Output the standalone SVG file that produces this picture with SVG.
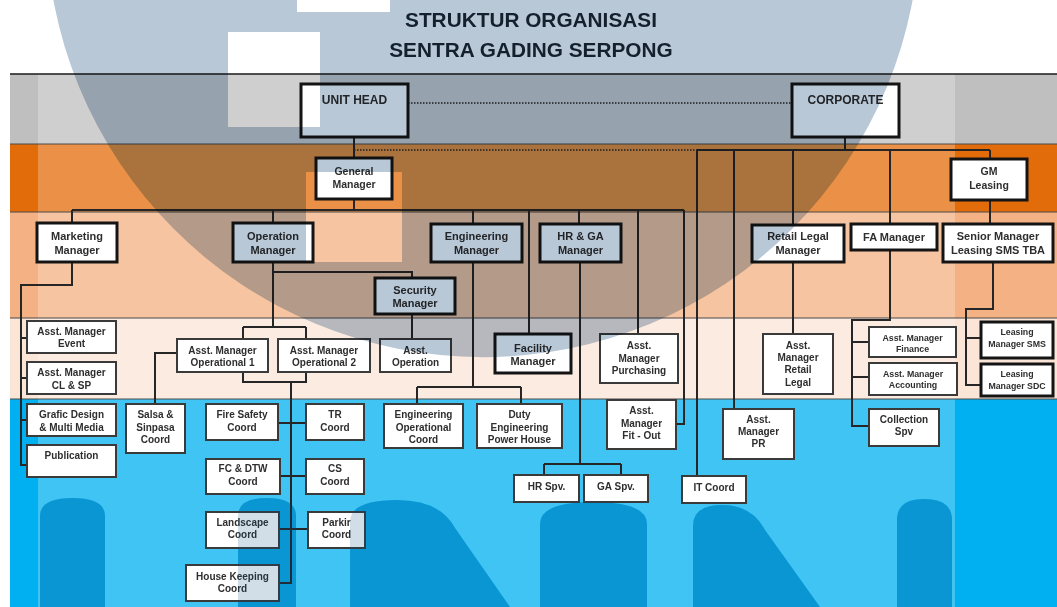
<svg xmlns="http://www.w3.org/2000/svg" width="1057" height="607" viewBox="0 0 1057 607">
<style>
.tk{fill:#fff;stroke:#141414;stroke-width:3}
.tn{fill:#fff;stroke:#3a3a3a;stroke-width:2}
.t{font-family:"Liberation Sans",Arial,sans-serif;font-weight:bold;text-anchor:middle;fill:#2e2e2e}
.s12{font-size:12px}.s11{font-size:11px}.s105{font-size:10.5px}.s10{font-size:10px}.s9{font-size:8.8px}
.ttl{font-family:"Liberation Sans",Arial,sans-serif;font-weight:bold;font-size:20.8px;text-anchor:middle;fill:#1c2836}
.cn{fill:none;stroke:#262626;stroke-width:2}
.dot{fill:none;stroke:#262626;stroke-width:1.5;stroke-dasharray:1.5 1.5}
.sep{stroke:#4a4a4a;stroke-width:1}
</style>
<defs>
<g id="mshapes">
<path d="M40,607 V516 Q40,498 72.5,498 Q105,498 105,516 V607 Z"/>
<path d="M238,607 V516 Q238,498 267,498 Q296,498 296,516 V607 Z"/>
<path d="M350,607 V522 Q350,500 397,500 Q440,500 455,528 L510,607 Z"/>
<path d="M540,607 V524 Q540,502 593,502 Q647,502 647,524 V607 Z"/>
<path d="M693,607 V526 Q693,505 722,505 Q752,505 765,530 L820,607 Z"/>
<path d="M897,607 V520 Q897,499 924,499 Q952,499 952,520 V607 Z"/>
</g>
</defs>
<rect x="0" y="0" width="1057" height="607" fill="#ffffff"/>
<g id="bands">
<rect x="10" y="74" width="1047" height="70" fill="#bfbfbf"/>
<rect x="10" y="144" width="1047" height="68" fill="#e36c0a"/>
<rect x="10" y="212" width="1047" height="106" fill="#f4b183"/>
<rect x="10" y="318" width="1047" height="81" fill="#fbe5d6"/>
<rect x="10" y="399" width="1047" height="208" fill="#00b0f0"/>
<rect x="38" y="74" width="917" height="533" fill="#ffffff" opacity="0.25"/>
<use href="#mshapes" fill="#09a6e6"/>
<line x1="10" y1="74" x2="1057" y2="74" stroke="#1a1a1a" stroke-width="1.5"/>
<line class="sep" x1="10" y1="144" x2="1057" y2="144"/>
<line class="sep" x1="10" y1="212" x2="1057" y2="212"/>
<line class="sep" x1="10" y1="318" x2="1057" y2="318"/>
<line class="sep" x1="10" y1="399" x2="1057" y2="399"/>
</g>
<g id="title">
<text class="ttl" x="531" y="27">STRUKTUR ORGANISASI</text>
<text class="ttl" x="531" y="57">SENTRA GADING SERPONG</text>
</g>
<g id="connectors">
<path class="dot" d="M408,103 H792"/>
<path class="dot" d="M354,150 H697"/>
<path class="cn" d="M354,137 V158 M354,199 V210 M72,210 H684 M72,210 V223 M273,210 V223 M473,210 V224 M529,210 V334 M579,210 V224 M638,210 V334 M684,210 V424 H676"/>
<path class="cn" d="M845,137 V150 M697,150 H990 M697,150 V476 M734,150 V409 M793,150 V225 M793,262 V334 M890,150 V224 M890,250 V320 H852 V426 H869 M852,342 H869 M852,377 H869"/>
<path class="cn" d="M990,150 V159 M990,200 V224 M993,262 V309 H966 V385 H981 M966,338 H981"/>
<path class="cn" d="M72,262 V285 H21 V465 H27 M21,338 H27 M21,378 H27 M21,420 H27"/>
<path class="cn" d="M273,262 V327 M243,327 H306 M243,327 V339 M306,327 V339 M273,272 H412 V278 M412,314 V339"/>
<path class="cn" d="M243,372 V382 H306 V372 M291,382 V583 H279 M278,423 H306 M280,476 H306 M279,529 H308 M177,353 H155 V404"/>
<path class="cn" d="M473,262 V387 M417,387 H521 M417,387 V404 M521,387 V404 M580,262 V464 M544,464 H621 M544,464 V475 M621,464 V475"/>
</g>
<g id="unit-head"><rect class="tk" x="301" y="84" width="107" height="53"/><text class="t s12" x="354.5" y="104">UNIT HEAD</text></g>
<g id="corporate"><rect class="tk" x="792" y="84" width="107" height="53"/><text class="t s12" x="845.5" y="104">CORPORATE</text></g>
<g id="general-manager"><rect class="tk" x="316" y="158" width="76" height="41"/><text class="t s105" x="354" y="175">General</text><text class="t s105" x="354" y="188">Manager</text></g>
<g id="gm-leasing"><rect class="tk" x="951" y="159" width="76" height="41"/><text class="t s105" x="989" y="175">GM</text><text class="t s105" x="989" y="189">Leasing</text></g>
<g id="marketing-manager"><rect class="tk" x="37" y="223" width="80" height="39"/><text class="t s11" x="77" y="240">Marketing</text><text class="t s11" x="77" y="254">Manager</text></g>
<g id="operation-manager"><rect class="tk" x="233" y="223" width="80" height="39"/><text class="t s11" x="273" y="240">Operation</text><text class="t s11" x="273" y="254">Manager</text></g>
<g id="engineering-manager"><rect class="tk" x="431" y="224" width="91" height="38"/><text class="t s11" x="476.5" y="240">Engineering</text><text class="t s11" x="476.5" y="254">Manager</text></g>
<g id="hrga-manager"><rect class="tk" x="540" y="224" width="81" height="38"/><text class="t s11" x="580.5" y="240">HR &amp; GA</text><text class="t s11" x="580.5" y="254">Manager</text></g>
<g id="security-manager"><rect class="tk" x="375" y="278" width="80" height="36"/><text class="t s11" x="415" y="294">Security</text><text class="t s11" x="415" y="307">Manager</text></g>
<g id="retail-legal-manager"><rect class="tk" x="752" y="225" width="92" height="37"/><text class="t s11" x="798" y="240">Retail Legal</text><text class="t s11" x="798" y="254">Manager</text></g>
<g id="fa-manager"><rect class="tk" x="851" y="224" width="86" height="26"/><text class="t s11" x="894" y="241">FA Manager</text></g>
<g id="senior-manager-leasing"><rect class="tk" x="943" y="224" width="110" height="38"/><text class="t s11" x="998" y="240">Senior Manager</text><text class="t s11" x="998" y="254">Leasing SMS TBA</text></g>
<g id="facility-manager"><rect class="tk" x="495" y="334" width="76" height="39"/><text class="t s11" x="533" y="352">Facility</text><text class="t s11" x="533" y="365">Manager</text></g>
<g id="leasing-sms"><rect class="tk" x="981" y="322" width="72" height="36"/><text class="t s9" x="1017" y="335">Leasing</text><text class="t s9" x="1017" y="347">Manager SMS</text></g>
<g id="leasing-sdc"><rect class="tk" x="981" y="364" width="72" height="32"/><text class="t s9" x="1017" y="377">Leasing</text><text class="t s9" x="1017" y="389">Manager SDC</text></g>
<g id="asst-event"><rect class="tn" x="27" y="321" width="89" height="32"/><text class="t s10" x="71.5" y="335">Asst. Manager</text><text class="t s10" x="71.5" y="347">Event</text></g>
<g id="asst-clsp"><rect class="tn" x="27" y="362" width="89" height="32"/><text class="t s10" x="71.5" y="376">Asst. Manager</text><text class="t s10" x="71.5" y="389">CL &amp; SP</text></g>
<g id="grafic-design"><rect class="tn" x="27" y="404" width="89" height="32"/><text class="t s10" x="71.5" y="418">Grafic Design</text><text class="t s10" x="71.5" y="431">&amp; Multi Media</text></g>
<g id="publication"><rect class="tn" x="27" y="445" width="89" height="32"/><text class="t s10" x="71.5" y="459">Publication</text></g>
<g id="asst-op1"><rect class="tn" x="177" y="339" width="91" height="33"/><text class="t s10" x="222.5" y="354">Asst. Manager</text><text class="t s10" x="222.5" y="366">Operational 1</text></g>
<g id="asst-op2"><rect class="tn" x="278" y="339" width="92" height="33"/><text class="t s10" x="324" y="354">Asst. Manager</text><text class="t s10" x="324" y="366">Operational 2</text></g>
<g id="asst-operation"><rect class="tn" x="380" y="339" width="71" height="33"/><text class="t s10" x="415.5" y="354">Asst.</text><text class="t s10" x="415.5" y="366">Operation</text></g>
<g id="asst-purchasing"><rect class="tn" x="600" y="334" width="78" height="49"/><text class="t s10" x="639" y="349">Asst.</text><text class="t s10" x="639" y="362">Manager</text><text class="t s10" x="639" y="374">Purchasing</text></g>
<g id="asst-retail-legal"><rect class="tn" x="763" y="334" width="70" height="60"/><text class="t s10" x="798" y="349">Asst.</text><text class="t s10" x="798" y="361">Manager</text><text class="t s10" x="798" y="373">Retail</text><text class="t s10" x="798" y="386">Legal</text></g>
<g id="asst-finance"><rect class="tn" x="869" y="327" width="87" height="30"/><text class="t s9" x="912.5" y="341">Asst. Manager</text><text class="t s9" x="912.5" y="352">Finance</text></g>
<g id="asst-accounting"><rect class="tn" x="869" y="363" width="88" height="32"/><text class="t s9" x="913" y="377">Asst. Manager</text><text class="t s9" x="913" y="388">Accounting</text></g>
<g id="salsa"><rect class="tn" x="126" y="404" width="59" height="49"/><text class="t s10" x="155.5" y="418">Salsa &amp;</text><text class="t s10" x="155.5" y="431">Sinpasa</text><text class="t s10" x="155.5" y="443">Coord</text></g>
<g id="fire-safety"><rect class="tn" x="206" y="404" width="72" height="36"/><text class="t s10" x="242" y="418">Fire Safety</text><text class="t s10" x="242" y="431">Coord</text></g>
<g id="tr-coord"><rect class="tn" x="306" y="404" width="58" height="36"/><text class="t s10" x="335" y="418">TR</text><text class="t s10" x="335" y="431">Coord</text></g>
<g id="fcdtw"><rect class="tn" x="206" y="459" width="74" height="35"/><text class="t s10" x="243" y="472">FC &amp; DTW</text><text class="t s10" x="243" y="485">Coord</text></g>
<g id="cs-coord"><rect class="tn" x="306" y="459" width="58" height="35"/><text class="t s10" x="335" y="472">CS</text><text class="t s10" x="335" y="485">Coord</text></g>
<g id="landscape"><rect class="tn" x="206" y="512" width="73" height="36"/><text class="t s10" x="242.5" y="526">Landscape</text><text class="t s10" x="242.5" y="538">Coord</text></g>
<g id="parkir"><rect class="tn" x="308" y="512" width="57" height="36"/><text class="t s10" x="336.5" y="526">Parkir</text><text class="t s10" x="336.5" y="538">Coord</text></g>
<g id="house-keeping"><rect class="tn" x="186" y="565" width="93" height="36"/><text class="t s10" x="232.5" y="580">House Keeping</text><text class="t s10" x="232.5" y="592">Coord</text></g>
<g id="eng-op-coord"><rect class="tn" x="384" y="404" width="79" height="44"/><text class="t s10" x="423.5" y="418">Engineering</text><text class="t s10" x="423.5" y="431">Operational</text><text class="t s10" x="423.5" y="443">Coord</text></g>
<g id="duty-eng"><rect class="tn" x="477" y="404" width="85" height="44"/><text class="t s10" x="519.5" y="418">Duty</text><text class="t s10" x="519.5" y="431">Engineering</text><text class="t s10" x="519.5" y="443">Power House</text></g>
<g id="fit-out"><rect class="tn" x="607" y="400" width="69" height="49"/><text class="t s10" x="641.5" y="414">Asst.</text><text class="t s10" x="641.5" y="427">Manager</text><text class="t s10" x="641.5" y="439">Fit - Out</text></g>
<g id="hr-spv"><rect class="tn" x="514" y="475" width="65" height="27"/><text class="t s10" x="546.5" y="490">HR Spv.</text></g>
<g id="ga-spv"><rect class="tn" x="584" y="475" width="64" height="27"/><text class="t s10" x="616" y="490">GA Spv.</text></g>
<g id="it-coord"><rect class="tn" x="682" y="476" width="64" height="27"/><text class="t s10" x="714" y="491">IT Coord</text></g>
<g id="asst-pr"><rect class="tn" x="723" y="409" width="71" height="50"/><text class="t s10" x="758.5" y="423">Asst.</text><text class="t s10" x="758.5" y="435">Manager</text><text class="t s10" x="758.5" y="447">PR</text></g>
<g id="collection"><rect class="tn" x="869" y="409" width="70" height="37"/><text class="t s10" x="904" y="423">Collection</text><text class="t s10" x="904" y="435">Spv</text></g>
<g id="watermark">
<use href="#mshapes" fill="#0d4f80" opacity="0.18"/>
<path fill="#b9c8d7" fill-rule="evenodd" style="mix-blend-mode:multiply" d="M46,-80 A437,437 0 1 0 920,-80 A437,437 0 1 0 46,-80 Z M297,0 h93 v12 h-93 Z M228,32 h92 v95 h-92 Z M306,172 h96 v90 h-96 Z"/>
</g>
</svg>
